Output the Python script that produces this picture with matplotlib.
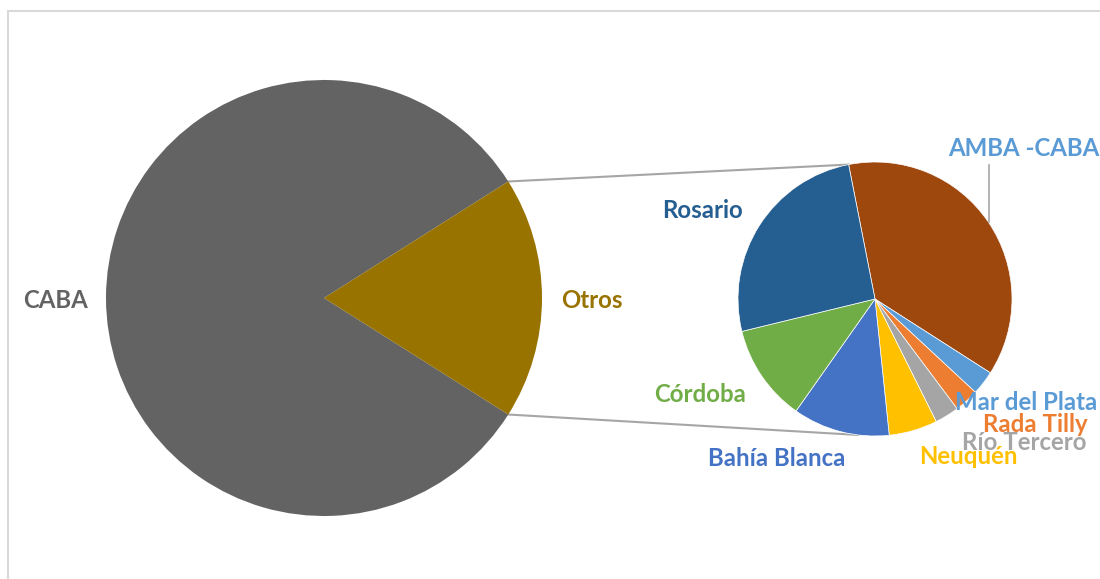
import numpy as np
import matplotlib
matplotlib.use("Agg")
import matplotlib.pyplot as plt
from matplotlib.patches import Rectangle

# ---- data ----
main_labels = ["CABA", "Otros"]
main_values = [160, 35]
main_colors = ["#636363", "#997300"]

sub_labels = ["AMBA -CABA", "Mar del Plata", "Rada Tilly", "Río Tercero",
              "Neuquén", "Bahía Blanca", "Córdoba", "Rosario"]
sub_values = [13, 1, 1, 1, 2, 4, 4, 9]
sub_colors = ["#9E480E", "#5B9BD5", "#ED7D31", "#A5A5A5",
              "#FFC000", "#4472C4", "#70AD47", "#255E91"]
sub_label_colors = ["#5B9BD5", "#5B9BD5", "#ED7D31", "#A5A5A5",
                    "#FFC000", "#4472C4", "#70AD47", "#255E91"]

W, H = 1100, 579
fig = plt.figure(figsize=(W / 100, H / 100), dpi=100)
ax = fig.add_axes([0, 0, 1, 1])

def Y(y):
    return H - y

# main pie (Otros centred on the right)
mc = (324, Y(298)); mr = 218
otros_frac = main_values[1] / sum(main_values)
half = 360 * otros_frac / 2
ax.pie(main_values, colors=main_colors, startangle=half,
       counterclock=True, center=mc, radius=mr, frame=True,
       wedgeprops=dict(linewidth=0))

# secondary pie
sc = (875, Y(299)); sr = 137
sub_start = 101.1
ax.pie(sub_values, colors=sub_colors, startangle=sub_start,
       counterclock=False, center=sc, radius=sr, frame=True,
       wedgeprops=dict(linewidth=0.5, edgecolor="white"))

ax.set_xlim(0, W)
ax.set_ylim(0, H)
ax.set_aspect("equal")
ax.axis("off")

# frame
ax.add_patch(Rectangle((7.5, Y(585)), 1200, 585 - 11, fill=False,
                       edgecolor="#d9d9d9", linewidth=1.5, zorder=0))

# connector lines
a1 = np.deg2rad(half)
p_top = (mc[0] + mr * np.cos(a1), mc[1] + mr * np.sin(a1))
p_bot = (mc[0] + mr * np.cos(-a1), mc[1] + mr * np.sin(-a1))
q_top = (sc[0] + sr * np.cos(np.deg2rad(sub_start)), sc[1] + sr * np.sin(np.deg2rad(sub_start)))
q_bot = (sc[0] + sr * np.cos(np.deg2rad(-97)), sc[1] + sr * np.sin(np.deg2rad(-97)))
ax.plot([p_top[0], q_top[0]], [p_top[1], q_top[1]], color="#a6a6a6", lw=1.5, zorder=0.5)
ax.plot([p_bot[0], q_bot[0]], [p_bot[1], q_bot[1]], color="#a6a6a6", lw=1.5, zorder=0.5)

# leader line for AMBA -CABA
ax.plot([989, 989], [Y(165), Y(222)], color="#a6a6a6", lw=1.2, zorder=3)

fs = 17.3
font = dict(family="Lato", fontweight="bold", fontsize=fs, ha="center", va="center")

ax.text(56, Y(300), main_labels[0], color="#636363", zorder=5, **font)
ax.text(592, Y(300), main_labels[1], color="#997300", zorder=5, **font)

sub_pos = {
    "AMBA -CABA": (1024, 149),
    "Rosario": (702, 210),
    "Córdoba": (700, 394),
    "Bahía Blanca": (777, 458),
    "Rada Tilly": (1035, 425),
    "Río Tercero": (1024, 442),
    "Neuquén": (968, 457),
    "Mar del Plata": (1026, 402),
}
order = ["AMBA -CABA", "Rosario", "Córdoba", "Bahía Blanca",
         "Rada Tilly", "Río Tercero", "Neuquén", "Mar del Plata"]
for z, name in enumerate(order):
    i = sub_labels.index(name)
    x, y = sub_pos[name]
    ax.text(x, Y(y), name, color=sub_label_colors[i], zorder=5 + z * 0.1, **font)

fig.savefig("out.png", dpi=100)
